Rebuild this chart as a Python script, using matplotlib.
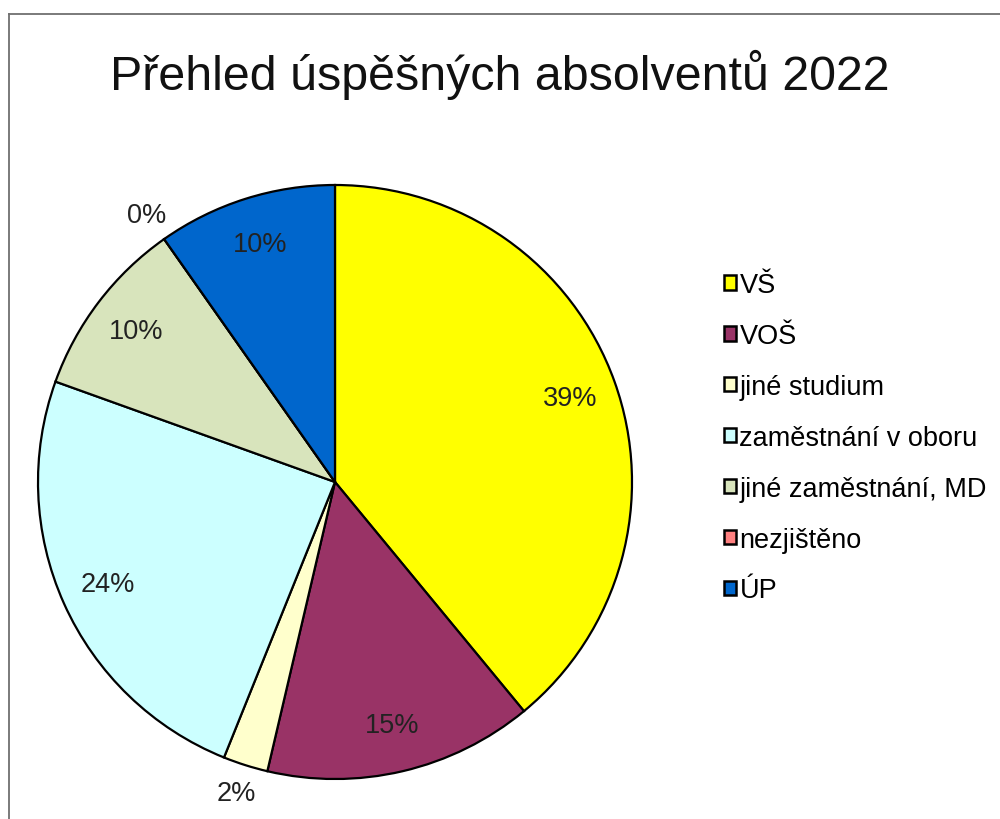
import matplotlib
matplotlib.use("Agg")
import matplotlib.pyplot as plt
from matplotlib.patches import Rectangle
from matplotlib.lines import Line2D
import numpy as np

categories = ["VŠ", "VOŠ", "jiné studium", "zaměstnání v oboru",
              "jiné zaměstnání, MD", "nezjištěno", "ÚP"]
counts = [16, 6, 1, 10, 4, 0, 4]
colors = ["#FFFF00", "#993366", "#FFFFCC", "#CCFFFF", "#D8E4BC", "#FF8080", "#0066CC"]
title = "Přehled úspěšných absolventů 2022"

plt.rcParams['font.family'] = ['Liberation Sans', 'DejaVu Sans']

W, H = 1000, 820
fig = plt.figure(figsize=(W / 100, H / 100), dpi=100)

# pie axes: center (335, 483) px, radius 297 px
cx, cy, R = 335, 483, 297
lim = 1.2
side = 2 * lim * R
ax = fig.add_axes([(cx - side / 2) / W, (H - cy - side / 2) / H, side / W, side / H])
wedges, _ = ax.pie(counts, colors=colors, startangle=90, counterclock=False,
                   wedgeprops=dict(edgecolor="black", linewidth=1.6))
ax.set_xlim(-lim, lim)
ax.set_ylim(-lim, lim)
ax.set_aspect("equal")
ax.axis("off")

total = sum(counts)
cum = 0
for i, c in enumerate(counts):
    frac = c / total
    mid = cum + frac / 2
    cum += frac
    ang = np.deg2rad(90 - mid * 360)
    d = 0.84 if frac >= 0.05 else 1.1
    ax.text(d * np.cos(ang), d * np.sin(ang), f"{round(frac * 100):.0f}%",
            ha="center", va="center", fontsize=19.5, color="#222222", clip_on=False)

fig.text(0.5, 1 - 75 / H, title, ha="center", va="center", fontsize=34.8, color="#111111")

handles = [Rectangle((0, 0), 1, 1, facecolor=col, edgecolor="black", linewidth=1.8)
           for col in colors]
fig.legend(handles, categories, loc="upper left",
           bbox_to_anchor=(724 / W, 1 - 273 / H), frameon=False, fontsize=19.5,
           handlelength=0.45, handleheight=0.45, handletextpad=0.12,
           labelspacing=0.92, borderpad=0, borderaxespad=0)

# outer chart border (gray)
fig.add_artist(Line2D([8.5 / W, 8.5 / W], [0, 1 - 15 / H], transform=fig.transFigure,
                      color="#707070", linewidth=1.3))
fig.add_artist(Line2D([8.5 / W, 1], [1 - 15 / H, 1 - 15 / H], transform=fig.transFigure,
                      color="#707070", linewidth=1.3))

fig.savefig("out.png", dpi=100)
